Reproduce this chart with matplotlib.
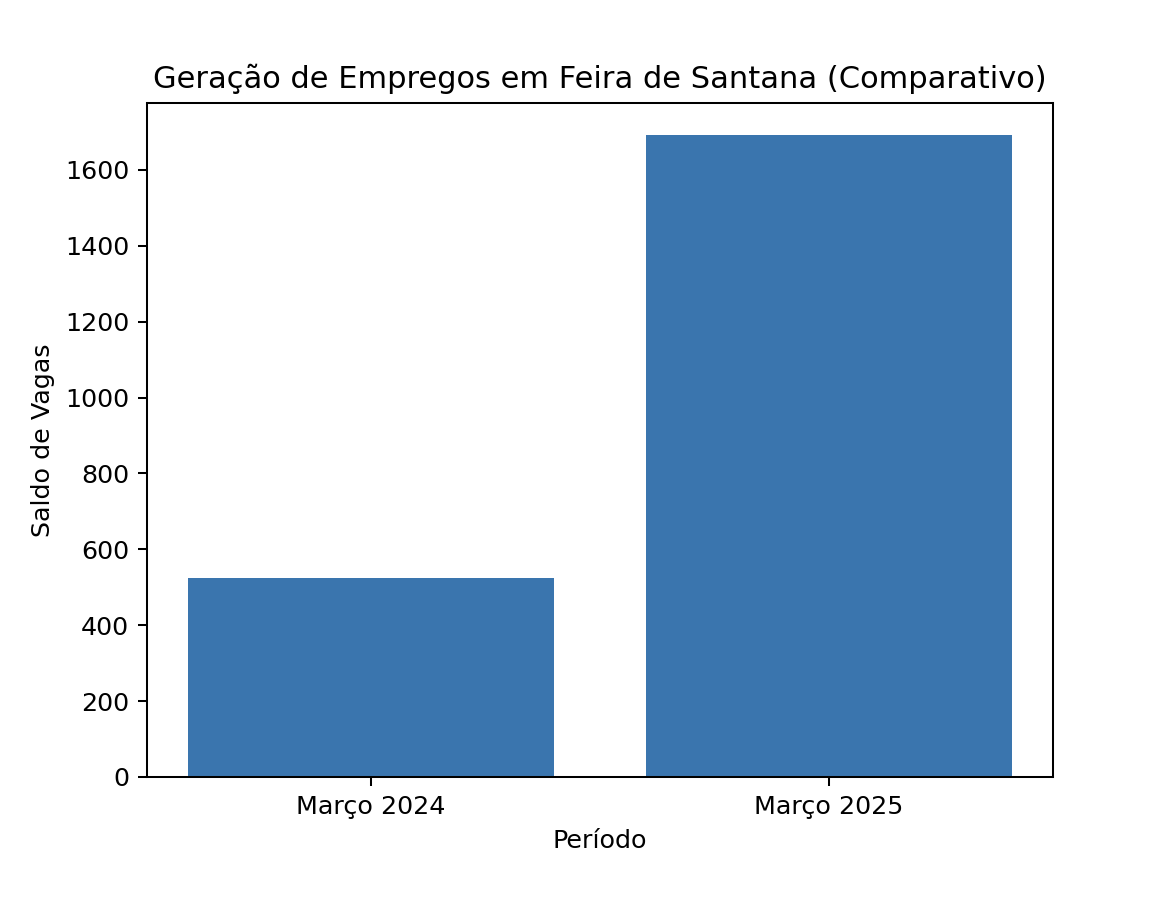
import matplotlib
matplotlib.use("Agg")
import matplotlib.pyplot as plt

periodos = ["Março 2024", "Março 2025"]
saldo_vagas = [525, 1692]

fig = plt.figure(figsize=(6.4, 909 / 182.8), dpi=182.8)
ax = fig.add_subplot(111)
fig.subplots_adjust(left=0.1256, right=0.9, top=1 - 103 / 909, bottom=1 - 777 / 909)

ax.bar(periodos, saldo_vagas, color="#3a75ae")
ax.set_title("Geração de Empregos em Feira de Santana (Comparativo)")
ax.set_xlabel("Período")
ax.set_ylabel("Saldo de Vagas")

fig.savefig("out.png", dpi=182.8)
